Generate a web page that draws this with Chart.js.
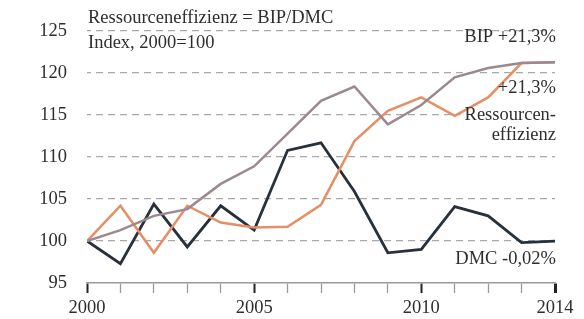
<!DOCTYPE html>
<html>
<head>
<meta charset="utf-8">
<script src="https://cdn.jsdelivr.net/npm/chart.js@4"></script>
<style>
  html, body { margin: 0; padding: 0; background: #fff; }
  #wrap { width: 584px; height: 319px; }
</style>
</head>
<body>
<div id="wrap"><canvas id="Effizienz"></canvas></div>
<script>
const years = [2000, 2001, 2002, 2003, 2004, 2005, 2006, 2007, 2008, 2009, 2010, 2011, 2012, 2013, 2014];
const bip = [100, 101.3, 103.0, 103.8, 106.8, 108.9, 112.8, 116.7, 118.4, 113.9, 116.2, 119.5, 120.6, 121.2, 121.3];
const effizienz = [100, 104.2, 98.6, 104.2, 102.2, 101.6, 101.7, 104.3, 111.9, 115.5, 117.1, 114.9, 117.1, 121.2, 121.3];
const dmc = [100, 97.3, 104.4, 99.3, 104.2, 101.3, 110.8, 111.7, 105.9, 98.6, 99.0, 104.1, 103.0, 99.8, 99.98];
const majorYears = [2000, 2005, 2010, 2014];

const serif = '"Liberation Serif", "DejaVu Serif", serif';
const textFont = '18.5px ' + serif;
const textColor = '#2e2e2e';

const toPoints = arr => arr.map((v, i) => ({ x: years[i], y: v }));
const isMajor = c => !!(c.tick && majorYears.includes(c.tick.value));

// dashed grey grid lines via a stroke pattern: 7px on, 5px off
const dashCanvas = document.createElement('canvas');
dashCanvas.width = 12;
dashCanvas.height = 4;
const dctx = dashCanvas.getContext('2d');
dctx.fillStyle = '#a8a8a8';
dctx.fillRect(0, 0, 7, 4);
const dashPattern = dctx.createPattern(dashCanvas, 'repeat');

const labelsPlugin = {
  id: 'labels',
  beforeDatasetsDraw(chart) {
    // white patches behind texts that sit on grid lines
    const ctx = chart.ctx;
    ctx.save();
    ctx.fillStyle = '#fff';
    ctx.font = textFont;
    const w = ctx.measureText('Ressourceneffizienz = BIP/DMC').width;
    ctx.fillRect(86, 8, w + 18, 22);
    const rw = ctx.measureText('Ressourcen-').width;
    ctx.fillRect(556 - rw - 4, 105, rw + 8, 19);
    ctx.restore();
  },
  afterDraw(chart) {
    const ctx = chart.ctx;
    ctx.save();
    ctx.font = textFont;
    ctx.fillStyle = textColor;
    ctx.textBaseline = 'middle';
    ctx.textAlign = 'left';
    ctx.fillText('Ressourceneffizienz = BIP/DMC', 88, 18);
    ctx.fillText('Index, 2000=100', 88, 43);

    ctx.textAlign = 'right';
    const right = 556;
    ctx.fillText('BIP +21,3%', right, 37);
    ctx.fillText('+21,3%', right, 88);
    ctx.fillText('Ressourcen-', right, 115);
    ctx.fillText('effizienz', right, 135);
    ctx.fillText('DMC -0,02%', right, 259);
    ctx.restore();
  }
};

const config = {
  type: 'line',
  data: {
    datasets: [
      { label: 'BIP', data: toPoints(bip), borderColor: '#9c8893', borderWidth: 2.5 },
      { label: 'Ressourceneffizienz', data: toPoints(effizienz), borderColor: '#e48f66', borderWidth: 2.5 },
      { label: 'DMC', data: toPoints(dmc), borderColor: '#27313b', borderWidth: 2.8 }
    ]
  },
  options: {
    responsive: true,
    maintainAspectRatio: false,
    animation: false,
    layout: { padding: { left: 0, right: 29, top: 18, bottom: 0 } },
    elements: { point: { radius: 0 }, line: { tension: 0 } },
    plugins: { legend: { display: false }, tooltip: { enabled: false } },
    scales: {
      x: {
        type: 'linear',
        min: 2000,
        max: 2014,
        afterFit(scale) { scale.height = 36; },
        border: { display: true, color: '#9a9a9a', width: 1.5 },
        grid: {
          drawOnChartArea: false,
          drawTicks: true,
          tickLength: 10,
          tickColor: c => isMajor(c) ? '#222' : '#999',
          tickWidth: c => (c.tick && c.tick.value === 2014) ? 3 : (isMajor(c) ? 2 : 1.3)
        },
        ticks: {
          stepSize: 1,
          autoSkip: false,
          maxRotation: 0,
          padding: 4,
          color: textColor,
          font: { family: serif, size: 18.5 },
          callback: v => majorYears.includes(v) ? String(v) : ''
        }
      },
      y: {
        min: 95,
        max: 125,
        afterFit(scale) { scale.width = 87; },
        border: { display: false },
        grid: {
          drawTicks: false,
          color: c => c.tick.value === 95 ? 'rgba(0,0,0,0)' : dashPattern,
          lineWidth: 1.3
        },
        ticks: {
          stepSize: 5,
          padding: 20,
          color: textColor,
          font: { family: serif, size: 18.5 }
        }
      }
    }
  },
  plugins: [labelsPlugin]
};

const ctx = document.getElementById('Effizienz');
new Chart(ctx, config);
</script>
</body>
</html>
